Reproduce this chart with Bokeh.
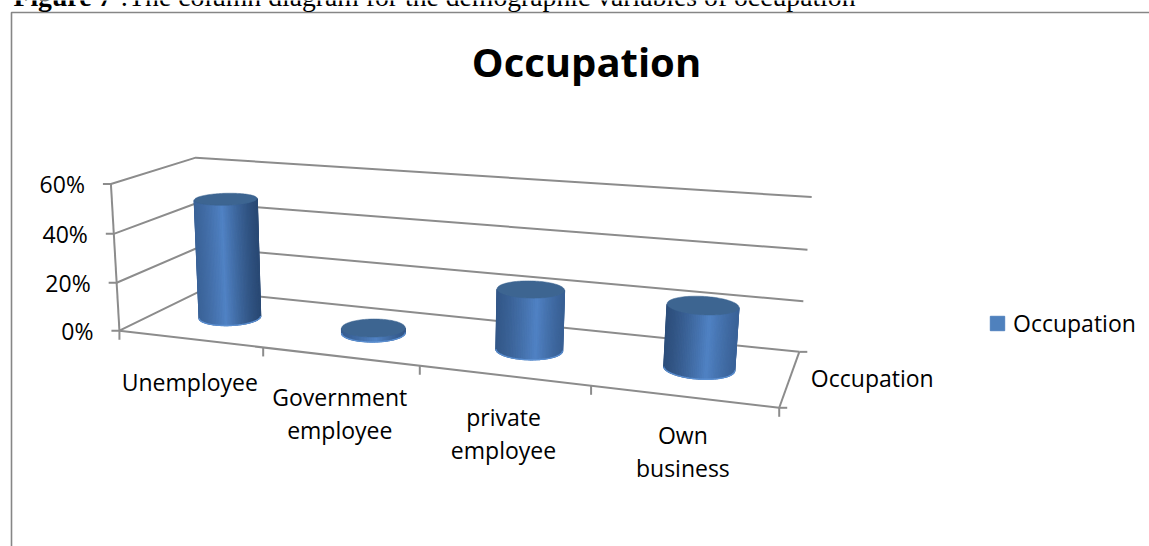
import numpy as np
from bokeh.plotting import figure
from bokeh.models import Range1d, Legend, LegendItem
from bokeh.core.properties import value
from bokeh.embed import file_html
from bokeh.resources import INLINE

# ---- data ----
categories = ["Unemployee", "Government employee", "private employee", "Own business"]
category_lines = [["Unemployee"], ["Government", "employee"], ["private", "employee"], ["Own", "business"]]
occupation = [0.50, 0.02, 0.24, 0.24]
value_ticks = [0.0, 0.2, 0.4, 0.6]
value_labels = ["0%", "20%", "40%", "60%"]
series_name = "Occupation"
title_text = "Occupation"
caption_bold = "Figure 7"
caption_rest = ":The column diagram for the demographic variables of occupation"

W, H = 1149, 546
FONT = "Open Sans"
GRID = "#8c8c8c"

# ---- camera: fitted to the 3-D box (category, depth, value) -> page pixels ----
anchors = [
    (0, 0, 0, 120, 330), (1, 0, 0, 263, 348), (2, 0, 0, 419, 366), (3, 0, 0, 590, 386), (4, 0, 0, 779, 406),
    (0, 1, 0, 200, 290), (4, 1, 0, 799, 351),
    (0, 0, .2, 117, 282), (0, 0, .4, 113, 233), (0, 0, .6, 109, 183),
    (0, 1, .2, 198, 246), (4, 1, .2, 803, 301),
    (0, 1, .4, 197, 202), (4, 1, .4, 807, 249),
    (0, 1, .6, 197, 158), (4, 1, .6, 811, 197),
]
rows, rhs = [], []
for u, v, w, sx, sy in anchors:
    rows.append([u, v, w, 1, 0, 0, 0, 0, -sx*u, -sx*v, -sx*w])
    rhs.append(sx)
    rows.append([0, 0, 0, 0, u, v, w, 1, -sy*u, -sy*v, -sy*w])
    rhs.append(sy)
sol = np.linalg.lstsq(np.array(rows, float), np.array(rhs, float), rcond=None)[0]
P = np.append(sol, 1.0).reshape(3, 4)


def proj(u, v, w):
    u, v, w = np.broadcast_arrays(np.asarray(u, float), np.asarray(v, float), np.asarray(w, float))
    d = P[2, 0]*u + P[2, 1]*v + P[2, 2]*w + P[2, 3]
    return ((P[0, 0]*u + P[0, 1]*v + P[0, 2]*w + P[0, 3])/d,
            (P[1, 0]*u + P[1, 1]*v + P[1, 2]*w + P[1, 3])/d)


p = figure(width=W, height=H, x_range=Range1d(0, W), y_range=Range1d(H, 0),
           output_backend="svg", toolbar_location=None, min_border=0,
           x_axis_type=None, y_axis_type=None, outline_line_color=None)
p.grid.visible = False
p.background_fill_color = "white"


def seg(a, b, color=GRID, width=2):
    p.line([a[0], b[0]], [a[1], b[1]], line_color=color, line_width=width)


# chart frame
p.line([1149, 11, 11], [12, 12, 546], line_color="#868686", line_width=1.6)

# caption, cut by the page top as in the source
p.text([13], [-4], text=[caption_bold], text_font=value("Liberation Serif"), text_font_style="bold",
       text_font_size="27.7px", text_baseline="alphabetic", text_color="black")
p.text([120], [-4], text=[caption_rest], text_font=value("Liberation Serif"),
       text_font_size="27.7px", text_baseline="alphabetic", text_color="black")

# title
p.text([586], [61], text=[title_text], text_font=value(FONT), text_font_style="bold",
       text_font_size="40px", text_align="center", text_baseline="middle", text_color="black")

# walls: value gridlines and ticks
for t, lab in zip(value_ticks, value_labels):
    x0, y0 = proj(0, 0, t)
    x1, y1 = proj(0, 1, t)
    x2, y2 = proj(4, 1, t)
    p.line([float(x0) - 8, float(x0), float(x1), float(x2)], [float(y0), float(y0), float(y1), float(y2)],
           line_color=GRID, line_width=2)
    p.text([float(x0) - 26], [float(y0)], text=[lab], text_font=value(FONT), text_font_size="23px",
           text_align="right", text_baseline="middle", text_color="black")
# value axis
seg(tuple(map(float, proj(0, 0, 0))), tuple(map(float, proj(0, 0, 0.6))))

# floor front edge, right edge, ticks
a = tuple(map(float, proj(0, 0, 0)))
b = tuple(map(float, proj(4, 0, 0)))
c = tuple(map(float, proj(4, 1, 0)))
seg(a, b)
seg(b, c)
seg(c, (c[0] + 8, c[1]))
seg(b, (b[0] + 8, b[1]))
for i in range(5):
    x, y = map(float, proj(i, 0, 0))
    seg((x, y), (x, y + 9))

# category labels
label_drop = [43, 41, 41, 38]
for i, lines in enumerate(category_lines):
    x, y = map(float, proj(i + 0.5, 0, 0))
    for k, line in enumerate(lines):
        p.text([x], [y + label_drop[i] + 33*k], text=[line], text_font=value(FONT), text_font_size="23px",
               text_align="center", text_baseline="middle", text_color="black")

# depth-axis label
x, y = map(float, proj(4, 0.5, 0))
p.text([x + 21], [y], text=[series_name], text_font=value(FONT), text_font_size="23px",
       text_align="left", text_baseline="middle", text_color="black")

# ---- cylinders ----
RU, RV = 0.197, 0.19
peak = [0.45, 0.55, 0.6, 0.6]
edge_left = [0.45, 0.35, 0.25, 0.08]
edge_right = [0.0, 0.25, 0.4, 0.45]
LIGHT = np.array([0x50, 0x82, 0xc4], float)
DARK = np.array([0x2a, 0x4a, 0x75], float)
TOP = "#3d6591"
RIM = "#5a8ed0"


def hexcol(c):
    return "#%02x%02x%02x" % tuple(int(round(x)) for x in c)


phi = np.linspace(0, 2*np.pi, 121)
for i, val in enumerate(occupation):
    uu = i + 0.5 + RU*np.cos(phi)
    vv = 0.5 + RV*np.sin(phi)
    bx, by = proj(uu, vv, 0*phi)
    tx, ty = proj(uu, vv, val + 0*phi)
    # front half runs from the leftmost to the rightmost ring point through low depth
    il, ir = int(np.argmin(tx[:-1])), int(np.argmax(tx[:-1]))
    idx = [(il + k) % 120 for k in range(((ir - il) % 120) + 1)]
    xl, xr = tx[il], tx[ir]
    xs, ys, cols = [], [], []
    for a0, a1 in zip(idx[:-1], idx[1:]):
        xs.append([float(bx[a0]), float(bx[a1]), float(tx[a1]), float(tx[a0])])
        ys.append([float(by[a0]), float(by[a1]), float(ty[a1]), float(ty[a0])])
        f = (0.5*(tx[a0] + tx[a1]) - xl)/(xr - xl)
        if f < peak[i]:
            s = edge_left[i] + (1 - edge_left[i])*(f/peak[i])**1.3
        else:
            s = edge_right[i] + (1 - edge_right[i])*((1 - f)/(1 - peak[i]))**1.3
        cols.append(hexcol(DARK + (LIGHT - DARK)*s))
    p.patches(xs, ys, fill_color=cols, line_color=cols, line_width=1.2)
    p.line(bx[idx].tolist(), by[idx].tolist(), line_color=RIM, line_width=1.4)
    p.patch(tx.tolist(), ty.tolist(), fill_color=TOP, line_color=TOP, line_width=0.5)

# ---- legend ----
key = p.quad(left=[-20], right=[-10], top=[-10], bottom=[-20], fill_color="#4f81bd", line_color="#4f81bd")
legend = Legend(items=[LegendItem(label=series_name, renderers=[key])], location=(988, 207),
                border_line_color=None, background_fill_alpha=0, label_text_font=FONT,
                label_text_font_size="23px", label_text_color="black", glyph_width=18, glyph_height=18,
                margin=0, padding=10, spacing=0, label_standoff=7)
p.add_layout(legend, "center")

open("out.html", "w").write(file_html(p, INLINE))
